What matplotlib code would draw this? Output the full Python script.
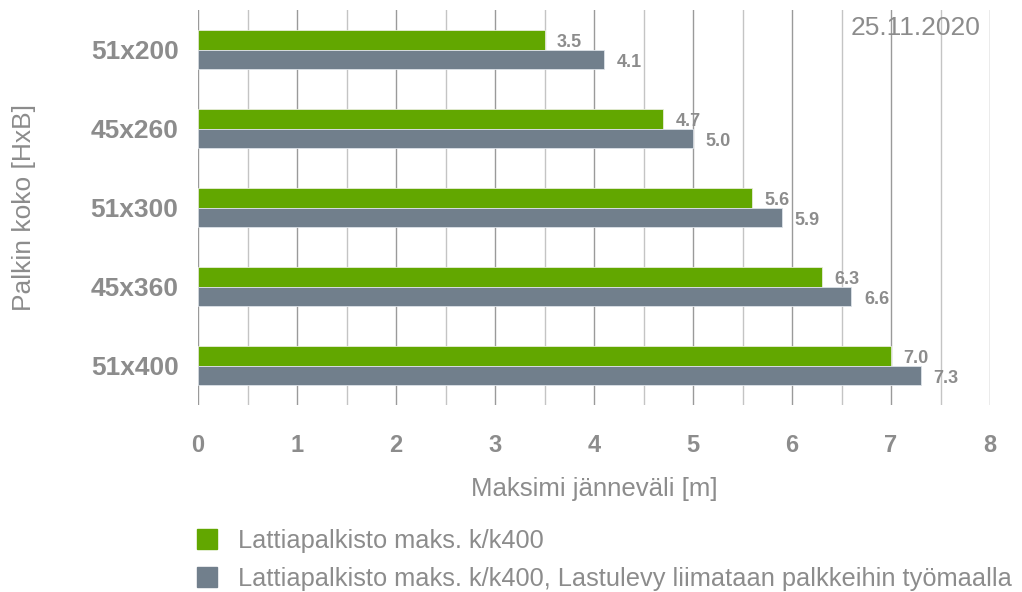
import matplotlib.pyplot as plt
import numpy as np
from matplotlib.patches import Patch

plt.rcParams['font.family'] = ['Liberation Sans', 'DejaVu Sans']

categories = ['51x200', '45x260', '51x300', '45x360', '51x400']
span_basic = [3.5, 4.7, 5.6, 6.3, 7.0]
span_glued = [4.1, 5.0, 5.9, 6.6, 7.3]
series_names = ['Lattiapalkisto maks. k/k400',
                'Lattiapalkisto maks. k/k400, Lastulevy liimataan palkkeihin työmaalla']
x_ticks = [0, 1, 2, 3, 4, 5, 6, 7, 8]

green = '#62a700'
slate = '#717f8c'
txt = '#8c8c8c'

fig = plt.figure(figsize=(10.22, 5.92), dpi=100)
ax = fig.add_axes([198 / 1022, 1 - 405 / 592, 792 / 1022, 395 / 592])

y = np.arange(len(categories))
h = 0.25
ax.barh(y - h / 2, span_basic, height=h, color=green, edgecolor='#e6ecd9', linewidth=0.6, zorder=3)
ax.barh(y + h / 2, span_glued, height=h, color=slate, edgecolor='#dde2e8', linewidth=0.6, zorder=3)

for i in range(len(categories)):
    ax.annotate(f'{span_basic[i]:.1f}', (span_basic[i], y[i] - h / 2 + 0.04), xytext=(9, 0),
                textcoords='offset points', ha='left', va='center', fontsize=13,
                fontweight='bold', color=txt, zorder=4)
    ax.annotate(f'{span_glued[i]:.1f}', (span_glued[i], y[i] + h / 2 + 0.04), xytext=(9, 0),
                textcoords='offset points', ha='left', va='center', fontsize=13,
                fontweight='bold', color=txt, zorder=4)

ax.set_xlim(0, 8)
ax.set_ylim(len(categories) - 0.5, -0.5)
ax.set_xticks(x_ticks)
ax.set_xticklabels([str(t) for t in x_ticks], fontsize=17, fontweight='bold', color=txt)
ax.set_xticks(np.arange(0.5, 8, 1), minor=True)
ax.set_yticks(y)
ax.set_yticklabels(categories, fontsize=19, fontweight='bold', color=txt)
ax.tick_params(axis='both', which='both', length=0)
ax.tick_params(axis='x', pad=21)
ax.tick_params(axis='y', pad=14)
ax.grid(True, which='major', axis='x', color='#9a9a9a', linewidth=1, zorder=0)
ax.grid(True, which='minor', axis='x', color='#c4c4c4', linewidth=1, zorder=0)
for s in ax.spines.values():
    s.set_visible(False)

ax.set_xlabel('Maksimi jänneväli [m]', fontsize=18.5, color=txt, labelpad=14)
ax.set_ylabel('Palkin koko [HxB]', fontsize=19, color=txt, labelpad=39)

fig.text(980 / 1022, 1 - 28 / 592, '25.11.2020', fontsize=19, color=txt, ha='right', va='center')

handles = [Patch(color=green), Patch(color=slate)]
fig.legend(handles, series_names, loc='upper left', bbox_to_anchor=(174 / 1022, 1 - 506 / 592),
           frameon=False, fontsize=18.3, labelcolor=txt, handlelength=0.8, handleheight=0.8,
           handletextpad=0.8, labelspacing=0.55)

fig.savefig('out.png', dpi=100)
